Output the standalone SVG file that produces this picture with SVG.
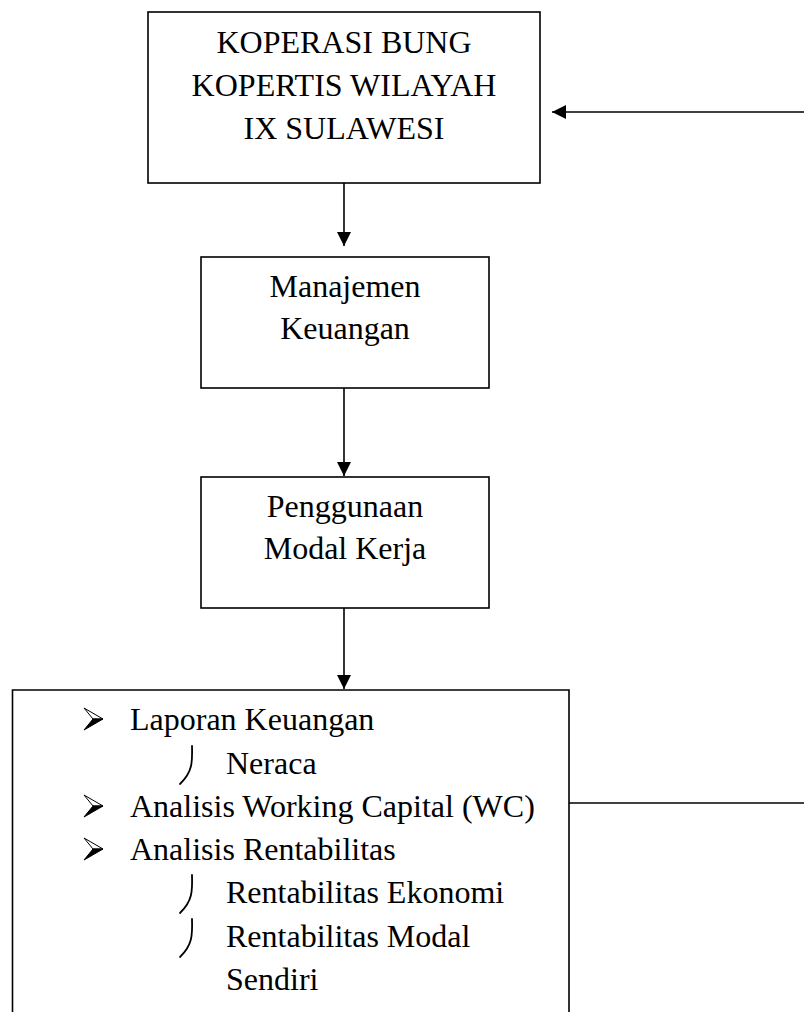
<svg xmlns="http://www.w3.org/2000/svg" width="804" height="1012" viewBox="0 0 804 1012">
<defs>
<style>
.box{fill:#fff;stroke:#000;stroke-width:1.6}
.t{font-family:"Liberation Serif","Times New Roman",serif;font-size:32px;fill:#000}
.c{text-anchor:middle}
.ln{fill:none;stroke:#000;stroke-width:1.6}
.sub{fill:none;stroke:#000;stroke-width:1.8;stroke-linecap:round}
</style>
<marker id="ah" viewBox="0 0 14 14" refX="14" refY="7" markerWidth="14" markerHeight="14" markerUnits="userSpaceOnUse" orient="auto">
<path d="M0,0 L14,7 L0,14 Z" fill="#000"/>
</marker>
<g id="bullet">
<path d="M0,-11 L19,0 L9,0 Z" fill="#fff" stroke="#000" stroke-width="1"/>
<path d="M0,11 L19,0 L9,0 Z" fill="#000" stroke="#000" stroke-width="1"/>
</g>
<path id="subb" d="M12,-28 C12.5,-12 12.5,-2 0,10" class="sub"/>
</defs>

<g id="connectors">
<line class="ln" x1="344" y1="183" x2="344" y2="246" marker-end="url(#ah)"/>
<line class="ln" x1="344" y1="388" x2="344" y2="476" marker-end="url(#ah)"/>
<line class="ln" x1="344" y1="608" x2="344" y2="689" marker-end="url(#ah)"/>
<line class="ln" x1="569" y1="803" x2="804" y2="803"/>
<line class="ln" x1="804" y1="112" x2="552" y2="112" marker-end="url(#ah)"/>
</g>

<g id="node-koperasi">
<rect class="box" x="148" y="12" width="392" height="171"/>
<text class="t c" x="344" y="53">KOPERASI BUNG</text>
<text class="t c" x="344" y="96">KOPERTIS WILAYAH</text>
<text class="t c" x="344" y="139">IX SULAWESI</text>
</g>

<g id="node-manajemen">
<rect class="box" x="201" y="257" width="288" height="131"/>
<text class="t c" x="345" y="297">Manajemen</text>
<text class="t c" x="345" y="339">Keuangan</text>
</g>

<g id="node-penggunaan">
<rect class="box" x="201" y="477" width="288" height="131"/>
<text class="t c" x="345" y="517">Penggunaan</text>
<text class="t c" x="345" y="559">Modal Kerja</text>
</g>

<g id="node-analisis">
<path class="ln" d="M12.5,1014 L12.5,690 L569,690 L569,1014"/>
<use href="#bullet" x="84" y="719"/>
<text class="t" x="130" y="730">Laporan Keuangan</text>
<use href="#subb" x="180" y="774"/>
<text class="t" x="226" y="774">Neraca</text>
<use href="#bullet" x="84" y="806"/>
<text class="t" x="130" y="817">Analisis Working Capital (WC)</text>
<use href="#bullet" x="84" y="849"/>
<text class="t" x="130" y="860">Analisis Rentabilitas</text>
<use href="#subb" x="180" y="903"/>
<text class="t" x="226" y="903">Rentabilitas Ekonomi</text>
<use href="#subb" x="180" y="947"/>
<text class="t" x="226" y="947">Rentabilitas Modal</text>
<text class="t" x="226" y="990">Sendiri</text>
</g>
</svg>
